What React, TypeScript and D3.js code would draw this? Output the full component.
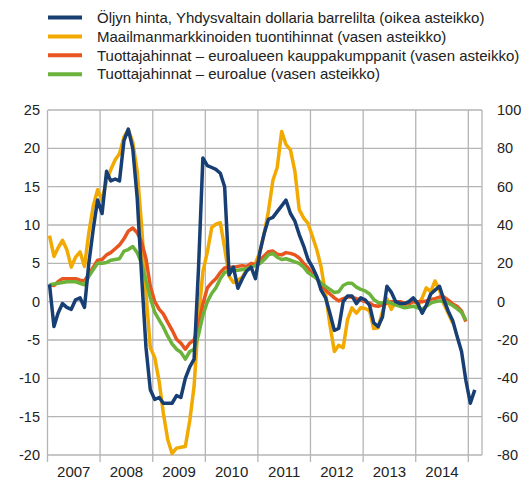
import React from 'react';
import * as d3 from 'd3';

// monthly series, first value = January 2007
const oilPrice = [
  9, -13, -6, -1, -3, -4, 1, 2, -3, 20, 38, 53,
  46, 68, 63, 64, 63, 84, 90, 80, 54, 14, -24, -46,
  -51, -50, -53, -53, -53, -49, -50, -40, -34, -30, 18, 75,
  71, 70, 69, 67, 60, 14, 18, 7, 12, 16, 18, 12,
  26, 36, 43, 44, 47, 50, 53, 46, 42, 35, 29, 22,
  18, 13, 6, 2, -6, -15, -14, 0, 3, 3, -1, 2,
  1, -2, -11, -13, -8, 8, 5, 0, -1, -1, 0, 2,
  -1, -6, -2, 4, 6, 8, 1, -5, -10, -18, -26, -41,
  -53, -46,
];
const importPrices = [
  8.6, 5.9, 7.0, 8.0, 6.8, 4.5, 5.8, 6.5, 4.6, 9.0, 12.5, 14.6,
  13.2, 15.8, 17.2, 18.5, 19.3, 21.5, 22.4, 20.8, 17.0, 10.0, 1.0, -6.0,
  -7.3, -10.5, -14.5, -18.0, -19.8, -19.1, -19.0, -18.9, -15.5, -11.0, -2.0, 3.9,
  6.5, 9.7, 10.1, 10.3, 7.0, 3.3, 2.5, 2.8, 3.2, 4.2, 4.7, 5.0,
  6.5, 9.0, 11.8, 15.8, 17.5, 22.2, 20.5, 19.8, 17.0, 12.0, 10.9, 10.2,
  8.5, 6.7, 4.5, 1.0, -3.0, -6.5, -5.7, -6.0, -2.3, -0.8, -1.5, -0.8,
  -0.9, -1.2, -3.5, -3.4, -1.3, 0.4, -1.0, 0.0, -0.3, -0.5, 0.0, 0.2,
  -0.5, 0.5, 1.8, 1.3, 2.7, 1.5, -0.3, -1.5, -2.8,
];
const ppiPartners = [
  2.2, 2.1, 2.6, 3.0, 3.0, 3.0, 3.0, 2.8, 2.7, 3.6, 4.5, 5.4,
  5.5, 6.1, 6.4, 6.9, 7.4, 8.2, 9.2, 9.6, 9.0, 7.8, 5.6, 2.0,
  0.0, -1.0, -1.6, -2.7, -3.7, -4.9, -5.4, -6.2, -5.4, -5.0, -3.0, -0.3,
  1.8, 2.5, 3.0, 3.8, 4.4, 4.5, 4.5, 4.6, 4.7, 4.6, 5.0, 4.8,
  5.4, 6.0, 6.5, 6.6, 6.2, 6.1, 6.4, 6.3, 6.1, 5.7, 5.0, 4.4,
  3.6, 3.0, 2.2, 1.5, 1.0, 0.5, 0.1, 0.4, 0.6, 0.6, 0.4, 0.2,
  0.0, -0.2, -0.5, -0.6, -0.4, -0.2, 0.0, 0.0, 0.0, -0.2, -0.3, 0.0,
  0.0, 0.0, 0.1, 0.3, 0.4, 0.6, 0.6, 0.2, -0.3, -0.6, -1.2, -2.6,
];
const ppiEuro = [
  2.2, 2.3, 2.4, 2.5, 2.6, 2.6, 2.6, 2.4, 2.2, 3.3, 4.2, 5.0,
  5.0, 5.1, 5.4, 5.5, 5.6, 6.6, 6.8, 7.2, 6.4, 5.0, 2.8, 0.5,
  -1.4, -2.4, -3.3, -4.5, -5.5, -6.2, -6.6, -7.5, -6.5, -6.2, -4.3, -1.8,
  0.0, 1.1, 1.8, 3.0, 3.8, 4.0, 4.1, 4.1, 4.2, 4.3, 4.5, 4.7,
  5.0, 5.5, 6.1, 6.3, 5.8, 5.5, 5.6, 5.4, 5.2, 5.0, 4.5, 3.8,
  3.4, 3.0, 2.4, 2.0, 1.6, 1.2, 1.3, 2.1, 2.4, 2.4, 1.9, 1.6,
  1.4, 1.0, 0.3, -0.1, -0.2, 0.0, -0.2, -0.4, -0.6, -0.8, -0.7, -0.6,
  -0.8, -1.0, -0.6, -0.2, 0.0, 0.1, 0.0, -0.2, -0.5, -0.9, -1.4, -2.4,
];

const years = ['2007', '2008', '2009', '2010', '2011', '2012', '2013', '2014'];
const leftTicks = [25, 20, 15, 10, 5, 0, -5, -10, -15, -20];
const rightTicks = [100, 80, 60, 40, 20, 0, -20, -40, -60, -80];

const legendItems = [
  { label: 'Öljyn hinta, Yhdysvaltain dollaria barrelilta (oikea asteikko)', color: '#173f74' },
  { label: 'Maailmanmarkkinoiden tuontihinnat (vasen asteikko)', color: '#f2a900' },
  { label: 'Tuottajahinnat – euroalueen kauppakumppanit (vasen asteikko)', color: '#e9551f' },
  { label: 'Tuottajahinnat – euroalue (vasen asteikko)', color: '#6cb33b' },
];

const W = 523;
const H = 479;
const margin = { top: 110, left: 48, bottom: 455, right: 482 };
const font = '"Liberation Sans", Arial, sans-serif';

const App = () => {
  const x = d3.scaleTime()
    .domain([new Date(2007, 0, 1), new Date(2015, 0, 1)])
    .range([47.5, 468.3]);
  const yL = d3.scaleLinear().domain([-20, 25]).range([margin.bottom, margin.top]);
  const yR = d3.scaleLinear().domain([-80, 100]).range([margin.bottom, margin.top]);

  const month = (i: number) => new Date(2007, i, 15);
  const lineL = d3.line<number>().x((_, i) => x(month(i))).y(d => yL(d));
  const lineR = d3.line<number>().x((_, i) => x(month(i))).y(d => yR(d));

  const yearStarts = d3.range(years.length + 1).map(k => x(new Date(2007 + k, 0, 1)));

  return (
    <svg width={W} height={H} style={{ position: 'absolute', left: 0, top: 0 }} fontFamily={font}>
      {/* legend */}
      {legendItems.map((d, i) => (
        <g key={d.label} transform={`translate(0,${17.5 + i * 18.9})`}>
          <line x1={48} x2={82} y1={0} y2={0} stroke={d.color} strokeWidth={4} />
          <text x={97} y={0} dy="0.35em" fontSize={15} fill="#222">{d.label}</text>
        </g>
      ))}

      {/* grid */}
      {leftTicks.map(t => (
        <line key={'h' + t} x1={margin.left} x2={margin.right} y1={yL(t)} y2={yL(t)} stroke="#b5b5b5" strokeWidth={1.3} />
      ))}
      {yearStarts.map((px, k) => (
        <line key={'v' + k} x1={px} x2={px} y1={margin.top} y2={margin.bottom + 7} stroke="#b5b5b5" strokeWidth={1.3} />
      ))}
      <line x1={margin.right} x2={margin.right} y1={margin.top} y2={margin.bottom} stroke="#b5b5b5" strokeWidth={1.3} />

      {/* left axis labels */}
      {leftTicks.map(t => (
        <text key={'l' + t} x={40} y={yL(t)} dy="0.35em" textAnchor="end" fontSize={14.5} fill="#222">{t}</text>
      ))}
      {/* right axis labels */}
      {rightTicks.map(t => (
        <text key={'r' + t} x={497} y={yR(t)} dy="0.35em" textAnchor="start" fontSize={14.5} fill="#222">{t}</text>
      ))}
      {/* year labels */}
      {years.map((yr, k) => (
        <text key={yr} x={(yearStarts[k] + yearStarts[k + 1]) / 2} y={477} textAnchor="middle" fontSize={15} fill="#222">{yr}</text>
      ))}

      {/* series */}
      <path d={lineL(importPrices) || ''} fill="none" stroke="#f2a900" strokeWidth={3.5} strokeLinejoin="round" />
      <path d={lineL(ppiPartners) || ''} fill="none" stroke="#e9551f" strokeWidth={3.5} strokeLinejoin="round" />
      <path d={lineL(ppiEuro) || ''} fill="none" stroke="#6cb33b" strokeWidth={3.5} strokeLinejoin="round" />
      <path d={lineR(oilPrice) || ''} fill="none" stroke="#173f74" strokeWidth={3.5} strokeLinejoin="round" />
    </svg>
  );
};

export default App;
